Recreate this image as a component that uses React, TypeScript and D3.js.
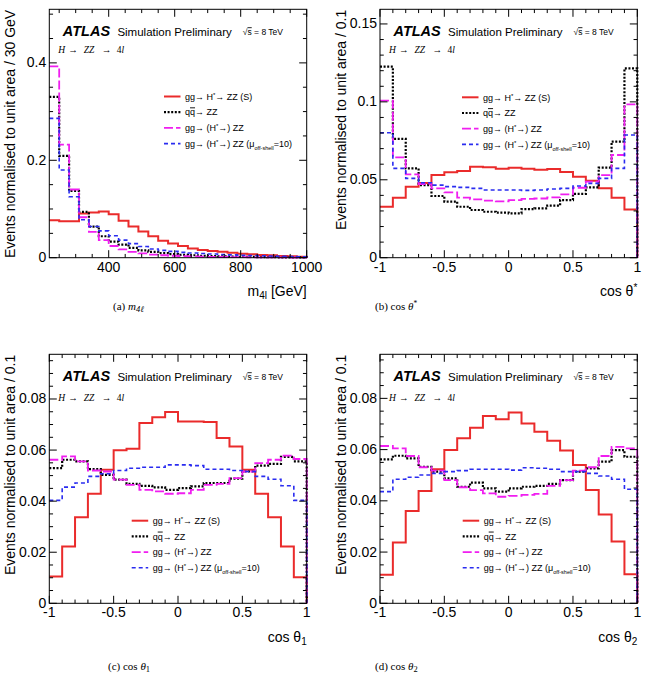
import React from 'react';
import * as d3 from 'd3';

// ---------- bin edges ----------
const m4lEdges = [220, 250, 280, 310, 340, 370, 400, 430, 460, 490, 520, 550, 580, 610, 640, 670, 700, 730, 760, 790, 820, 850, 880, 910, 940, 970, 1000];
const cosEdges = [-1, -0.9, -0.8, -0.7, -0.6, -0.5, -0.4, -0.3, -0.2, -0.1, 0, 0.1, 0.2, 0.3, 0.4, 0.5, 0.6, 0.7, 0.8, 0.9, 1];

// ---------- (a) m4l ----------
const m4lSignal = [0.077, 0.075, 0.075, 0.091, 0.093, 0.095, 0.089, 0.076, 0.064, 0.054, 0.044, 0.035, 0.029, 0.024, 0.019, 0.016, 0.014, 0.012, 0.010, 0.008, 0.007, 0.0055, 0.005, 0.0035, 0.003, 0.002];
const m4lQQ = [0.330, 0.209, 0.137, 0.094, 0.064, 0.044, 0.033, 0.027, 0.020, 0.015, 0.012, 0.0095, 0.0075, 0.006, 0.005, 0.004, 0.0032, 0.0027, 0.0022, 0.0018, 0.0015, 0.0012, 0.001, 0.0008, 0.0006, 0.0005];
const m4lGG = [0.393, 0.232, 0.140, 0.083, 0.053, 0.036, 0.024, 0.017, 0.012, 0.009, 0.0065, 0.005, 0.004, 0.0032, 0.0026, 0.0021, 0.0017, 0.0014, 0.0012, 0.001, 0.0008, 0.0007, 0.0006, 0.0005, 0.0004, 0.0003];
const m4lGG10 = [0.286, 0.180, 0.125, 0.078, 0.064, 0.055, 0.045, 0.036, 0.029, 0.023, 0.018, 0.015, 0.013, 0.011, 0.0095, 0.0085, 0.0075, 0.0065, 0.0058, 0.005, 0.0045, 0.004, 0.0035, 0.003, 0.0025, 0.002];

// ---------- (b) cos theta* ----------
const ctsSignal = [0.0327, 0.0385, 0.0456, 0.048, 0.053, 0.0548, 0.0556, 0.0584, 0.058, 0.0571, 0.0578, 0.0571, 0.0565, 0.0569, 0.055, 0.052, 0.0494, 0.0445, 0.0385, 0.031];
const ctsQQ = [0.1226, 0.0762, 0.0573, 0.0466, 0.0396, 0.036, 0.0327, 0.0306, 0.0295, 0.0289, 0.0285, 0.0312, 0.0317, 0.0334, 0.037, 0.0409, 0.0451, 0.0578, 0.0745, 0.1215];
const ctsGG = [0.1008, 0.0644, 0.0535, 0.0473, 0.0445, 0.0419, 0.0385, 0.0374, 0.0366, 0.0362, 0.037, 0.0377, 0.038, 0.0387, 0.0407, 0.0449, 0.0488, 0.053, 0.0659, 0.0984];
const ctsGG10 = [0.0802, 0.0573, 0.0509, 0.0481, 0.0466, 0.0456, 0.0451, 0.0445, 0.0434, 0.0434, 0.0434, 0.0432, 0.0434, 0.0441, 0.0445, 0.046, 0.0477, 0.0509, 0.0573, 0.0787];

// ---------- (c) cos theta1 ----------
const ct1Signal = [0.0105, 0.0222, 0.0337, 0.0429, 0.0523, 0.0599, 0.0605, 0.0706, 0.0729, 0.0749, 0.0712, 0.0712, 0.071, 0.0647, 0.0614, 0.0523, 0.0429, 0.0337, 0.0222, 0.0102];
const ct1QQ = [0.0529, 0.0562, 0.0556, 0.0525, 0.0503, 0.0484, 0.0468, 0.046, 0.0454, 0.0444, 0.0451, 0.0458, 0.0471, 0.0471, 0.0488, 0.0516, 0.0539, 0.0546, 0.0573, 0.0556];
const ct1GG = [0.0562, 0.0575, 0.0556, 0.052, 0.0516, 0.0484, 0.0464, 0.0444, 0.0438, 0.0429, 0.0431, 0.0444, 0.0464, 0.0468, 0.049, 0.0516, 0.0549, 0.0562, 0.0578, 0.0565];
const ct1GG10 = [0.0403, 0.0455, 0.0471, 0.0497, 0.0507, 0.052, 0.0529, 0.0533, 0.0533, 0.0542, 0.0542, 0.0539, 0.0525, 0.0525, 0.052, 0.0516, 0.0497, 0.0486, 0.046, 0.0403];

// ---------- (d) cos theta2 ----------
const ct2Signal = [0.0111, 0.0237, 0.036, 0.0438, 0.0523, 0.0598, 0.0644, 0.0685, 0.0731, 0.0718, 0.0745, 0.0702, 0.067, 0.0635, 0.0596, 0.054, 0.0442, 0.0347, 0.0241, 0.0113];
const ct2QQ = [0.0562, 0.0576, 0.0566, 0.0533, 0.0514, 0.0488, 0.0455, 0.0471, 0.0449, 0.0436, 0.0449, 0.0455, 0.0458, 0.0466, 0.0481, 0.0514, 0.0527, 0.0553, 0.0598, 0.0572];
const ct2GG = [0.0614, 0.0605, 0.0575, 0.0531, 0.0518, 0.0481, 0.0453, 0.0442, 0.0429, 0.0416, 0.0419, 0.0423, 0.0427, 0.0458, 0.0481, 0.0518, 0.0531, 0.0575, 0.0611, 0.0605];
const ct2GG10 = [0.0436, 0.0484, 0.0492, 0.0501, 0.0507, 0.0514, 0.0518, 0.0523, 0.0523, 0.0523, 0.052, 0.0529, 0.0527, 0.0523, 0.0514, 0.0514, 0.0507, 0.0497, 0.0484, 0.0445];

// ---------- ticks ----------
const m4lMajor = [400, 600, 800, 1000];
const m4lMajorLabels = ['400', '600', '800', '1000'];
const cosMajor = [-1, -0.5, 0, 0.5, 1];
const cosMajorLabels = ['-1', '-0.5', '0', '0.5', '1'];
const yMajorA = [0, 0.2, 0.4];
const yLabelsA = ['0', '0.2', '0.4'];
const yMajorB = [0, 0.05, 0.1, 0.15];
const yLabelsB = ['0', '0.05', '0.1', '0.15'];
const yMajorCD = [0, 0.02, 0.04, 0.06, 0.08];
const yLabelsCD = ['0', '0.02', '0.04', '0.06', '0.08'];

const FONT = "'Liberation Sans', Arial, Helvetica, sans-serif";
const SERIF = "'Liberation Serif', 'Times New Roman', serif";

const STYLES = [
  { color: '#ea2b2b', width: 2, dash: undefined as string | undefined },
  { color: '#000000', width: 2.2, dash: '2,1.6' },
  { color: '#f01ef0', width: 1.8, dash: '9,3' },
  { color: '#2a2cf0', width: 1.6, dash: '4,3' },
];

function LegendLabel({ i }: { i: number }) {
  if (i === 0)
    return (
      <>
        gg→ H<tspan dy={-3} fontSize={6}>*</tspan>
        <tspan dy={3}>→ ZZ (S)</tspan>
      </>
    );
  if (i === 1)
    return (
      <>
        q<tspan style={{ textDecoration: 'overline' }}>q</tspan>→ ZZ
      </>
    );
  if (i === 2)
    return (
      <>
        gg→ (H<tspan dy={-3} fontSize={6}>*</tspan>
        <tspan dy={3}>→) ZZ</tspan>
      </>
    );
  return (
    <>
      gg→ (H<tspan dy={-3} fontSize={6}>*</tspan>
      <tspan dy={3}>→) ZZ (μ</tspan>
      <tspan dy={3} fontSize={5.5}>off-shell</tspan>
      <tspan dy={-3}>=10)</tspan>
    </>
  );
}

type PanelProps = {
  left: number;
  top: number;
  width: number;
  height: number;
  edges: number[];
  series: number[][];
  yMax: number;
  xMajor: number[];
  xMajorLabels: string[];
  xMinor: number[];
  yMajor: number[];
  yMajorLabels: string[];
  yMinor: number[];
  yTitle: string;
  xTitle: React.ReactNode;
  yTitleX: number;
  legendX: number;
  legendY: number;
  hzzY: number;
};

function Panel(p: PanelProps) {
  const x = d3.scaleLinear().domain([p.edges[0], p.edges[p.edges.length - 1]]).range([p.left, p.left + p.width]);
  const y = d3.scaleLinear().domain([0, p.yMax]).range([p.top + p.height, p.top]);
  const line = d3
    .line<[number, number]>()
    .x((d) => x(d[0]))
    .y((d) => y(d[1]))
    .curve(d3.curveStepAfter);
  const n = p.edges.length - 1;
  const bottom = p.top + p.height;
  const right = p.left + p.width;
  const MAJ = 7.5;
  const MIN = 3.75;
  const ax = p.left + 13.5;
  const ay = p.top + 27;
  return (
    <g>
      {p.series.map((vals, si) => {
        const pts: [number, number][] = vals.map((v, i) => [p.edges[i], v] as [number, number]);
        pts.push([p.edges[n], vals[n - 1]]);
        pts.push([p.edges[n], 0]);
        const st = STYLES[si];
        return (
          <path
            key={si}
            d={line(pts) || ''}
            fill="none"
            stroke={st.color}
            strokeWidth={st.width}
            strokeDasharray={st.dash}
          />
        );
      })}
      <rect x={p.left} y={p.top} width={p.width} height={p.height} fill="none" stroke="#000" strokeWidth={1} />
      {p.xMajor.map((t, i) => (
        <g key={'xM' + i}>
          <line x1={x(t)} x2={x(t)} y1={bottom} y2={bottom - MAJ} stroke="#000" />
          <line x1={x(t)} x2={x(t)} y1={p.top} y2={p.top + MAJ} stroke="#000" />
          <text x={x(t)} y={bottom + 14} textAnchor="middle" fontFamily={FONT} fontSize={14}>
            {p.xMajorLabels[i]}
          </text>
        </g>
      ))}
      {p.xMinor.map((t, i) => (
        <g key={'xm' + i}>
          <line x1={x(t)} x2={x(t)} y1={bottom} y2={bottom - MIN} stroke="#000" />
          <line x1={x(t)} x2={x(t)} y1={p.top} y2={p.top + MIN} stroke="#000" />
        </g>
      ))}
      {p.yMajor.map((t, i) => (
        <g key={'yM' + i}>
          <line x1={p.left} x2={p.left + MAJ} y1={y(t)} y2={y(t)} stroke="#000" />
          <line x1={right} x2={right - MAJ} y1={y(t)} y2={y(t)} stroke="#000" />
          <text x={p.left - 3} y={y(t) + 4.5} textAnchor="end" fontFamily={FONT} fontSize={14}>
            {p.yMajorLabels[i]}
          </text>
        </g>
      ))}
      {p.yMinor.map((t, i) => (
        <g key={'ym' + i}>
          <line x1={p.left} x2={p.left + MIN} y1={y(t)} y2={y(t)} stroke="#000" />
          <line x1={right} x2={right - MIN} y1={y(t)} y2={y(t)} stroke="#000" />
        </g>
      ))}
      <text
        transform={`translate(${p.yTitleX},${p.top + 0.5}) rotate(-90)`}
        textAnchor="end"
        fontFamily={FONT}
        fontSize={14}
      >
        {p.yTitle}
      </text>
      <text x={right} y={bottom + 38.5} textAnchor="end" fontFamily={FONT} fontSize={14}>
        {p.xTitle}
      </text>
      <text x={ax} y={ay} fontFamily={FONT} fontSize={14.5} fontWeight="bold" fontStyle="italic">
        ATLAS
      </text>
      <text x={ax + 54.6} y={ay} fontFamily={FONT} fontSize={11.5}>
        Simulation Preliminary
      </text>
      <text x={ax + 180} y={ay - 1} fontFamily={FONT} fontSize={8.5}>
        √<tspan style={{ textDecoration: 'overline' }}>s</tspan> = 8 TeV
      </text>
      <g fontFamily={SERIF} fontSize={9.5}>
        <text x={p.left + 9} y={p.hzzY} fontStyle="italic">H</text>
        <text x={p.left + 19} y={p.hzzY}>→</text>
        <text x={p.left + 34.5} y={p.hzzY} fontStyle="italic">ZZ</text>
        <text x={p.left + 52.5} y={p.hzzY}>→</text>
        <text x={p.left + 67.5} y={p.hzzY}>
          4<tspan fontStyle="italic">l</tspan>
        </text>
      </g>
      {STYLES.map((st, i) => {
        const ly = p.legendY + i * 15.7;
        return (
          <g key={'lg' + i}>
            <line
              x1={p.legendX}
              x2={p.legendX + 16.5}
              y1={ly}
              y2={ly}
              stroke={st.color}
              strokeWidth={st.width}
              strokeDasharray={st.dash}
            />
            <text x={p.legendX + 21} y={ly + 3.2} fontFamily={FONT} fontSize={9}>
              <LegendLabel i={i} />
            </text>
          </g>
        );
      })}
    </g>
  );
}

export default function App() {
  const m4lMinor = d3.range(250, 1000, 50).filter((v) => v % 200 !== 0);
  const cosMinor = d3.range(-10, 11).map((v) => v / 10).filter((v) => Math.abs(v * 2 - Math.round(v * 2)) > 1e-6);
  const yMinorA = d3.range(1, 11).map((v) => v * 0.05).filter((v) => Math.abs(v / 0.2 - Math.round(v / 0.2)) > 1e-6);
  const yMinorB = d3.range(1, 16).map((v) => v * 0.01).filter((v) => Math.abs(v / 0.05 - Math.round(v / 0.05)) > 1e-6);
  const yMinorCD = d3.range(1, 20).map((v) => v * 0.005).filter((v) => Math.abs(v / 0.02 - Math.round(v / 0.02)) > 1e-6);

  const yTitle30 = 'Events normalised to unit area / 30 GeV';
  const yTitle01 = 'Events normalised to unit area / 0.1';

  return (
    <svg width={648} height={675} style={{ position: 'absolute', left: 0, top: 0, background: '#fff' }}>
      <rect x={0} y={0} width={648} height={675} fill="#fff" />
      <Panel
        left={49.3}
        top={9.3}
        width={257.4}
        height={248.4}
        edges={m4lEdges}
        series={[m4lSignal, m4lQQ, m4lGG, m4lGG10]}
        yMax={0.51}
        xMajor={m4lMajor}
        xMajorLabels={m4lMajorLabels}
        xMinor={m4lMinor}
        yMajor={yMajorA}
        yMajorLabels={yLabelsA}
        yMinor={yMinorA}
        yTitle={yTitle30}
        yTitleX={15}
        xTitle={
          <>
            m<tspan dy={3} fontSize={10}>4l</tspan>
            <tspan dy={-3}> [GeV]</tspan>
          </>
        }
        legendX={164}
        legendY={96.5}
        hzzY={53.3}
      />
      <Panel
        left={380}
        top={9.3}
        width={257.3}
        height={248.4}
        edges={cosEdges}
        series={[ctsSignal, ctsQQ, ctsGG, ctsGG10]}
        yMax={0.1594}
        xMajor={cosMajor}
        xMajorLabels={cosMajorLabels}
        xMinor={cosMinor}
        yMajor={yMajorB}
        yMajorLabels={yLabelsB}
        yMinor={yMinorB}
        yTitle={yTitle01}
        yTitleX={346}
        xTitle={
          <>
            cos θ<tspan dy={-5} fontSize={10}>*</tspan>
          </>
        }
        legendX={462}
        legendY={97.3}
        hzzY={53.3}
      />
      <Panel
        left={49.3}
        top={354.3}
        width={257.4}
        height={249}
        edges={cosEdges}
        series={[ct1Signal, ct1QQ, ct1GG, ct1GG10]}
        yMax={0.0975}
        xMajor={cosMajor}
        xMajorLabels={cosMajorLabels}
        xMinor={cosMinor}
        yMajor={yMajorCD}
        yMajorLabels={yLabelsCD}
        yMinor={yMinorCD}
        yTitle={yTitle01}
        yTitleX={15}
        xTitle={
          <>
            cos θ<tspan dy={3} fontSize={10}>1</tspan>
          </>
        }
        legendX={131.7}
        legendY={520.7}
        hzzY={400.5}
      />
      <Panel
        left={380}
        top={354.3}
        width={257.3}
        height={249}
        edges={cosEdges}
        series={[ct2Signal, ct2QQ, ct2GG, ct2GG10]}
        yMax={0.0972}
        xMajor={cosMajor}
        xMajorLabels={cosMajorLabels}
        xMinor={cosMinor}
        yMajor={yMajorCD}
        yMajorLabels={yLabelsCD}
        yMinor={yMinorCD}
        yTitle={yTitle01}
        yTitleX={346}
        xTitle={
          <>
            cos θ<tspan dy={3} fontSize={10}>2</tspan>
          </>
        }
        legendX={462.7}
        legendY={520.7}
        hzzY={400.5}
      />
      <g fontFamily={SERIF} fontSize={11}>
        <text x={113} y={310}>
          (a)  <tspan fontStyle="italic">m</tspan>
          <tspan dy={2} fontSize={8.5} fontStyle="italic">4ℓ</tspan>
        </text>
        <text x={375} y={310}>
          (b)  cos <tspan fontStyle="italic">θ</tspan>
          <tspan dy={-4} fontSize={7.5}>*</tspan>
        </text>
        <text x={108} y={670}>
          (c)  cos <tspan fontStyle="italic">θ</tspan>
          <tspan dy={2} fontSize={8.5}>1</tspan>
        </text>
        <text x={375} y={670}>
          (d)  cos <tspan fontStyle="italic">θ</tspan>
          <tspan dy={2} fontSize={8.5}>2</tspan>
        </text>
      </g>
    </svg>
  );
}
